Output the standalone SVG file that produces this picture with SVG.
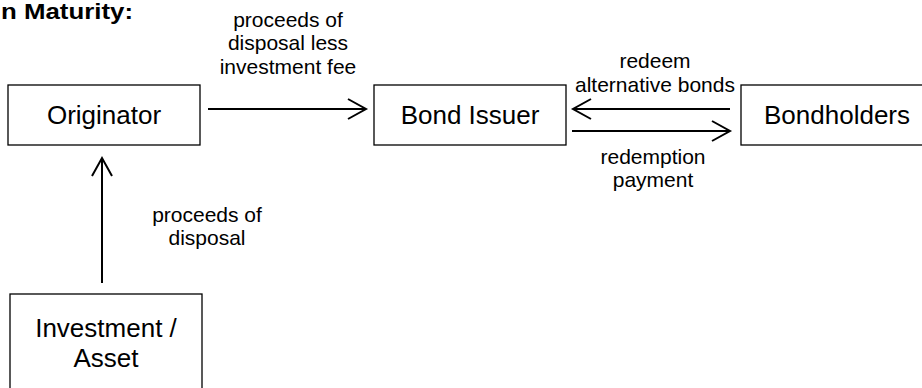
<svg xmlns="http://www.w3.org/2000/svg" width="922" height="388" viewBox="0 0 922 388">
<defs>
<marker id="open" markerUnits="userSpaceOnUse" markerWidth="24" markerHeight="24" viewBox="-20 -12 24 24" refX="0" refY="0" orient="auto">
<path d="M-18,-10 L0,0 L-18,10" fill="none" stroke="#000" stroke-width="2"/>
</marker>
<style>
.box{fill:#fff;stroke:#000;stroke-width:1.3}
.nl{font-family:"Liberation Sans",Arial,sans-serif;font-size:26px;fill:#000;text-anchor:middle}
.el{font-family:"Liberation Sans",Arial,sans-serif;font-size:21px;fill:#000;text-anchor:middle}
.title{font-family:"Liberation Sans",Arial,sans-serif;font-size:22px;font-weight:bold;fill:#000}
.edge{fill:none;stroke:#000;stroke-width:2;marker-end:url(#open)}
</style>
</defs>
<rect width="922" height="388" fill="#fff"/>
<text class="title" x="1" y="19" textLength="132" lengthAdjust="spacingAndGlyphs">n Maturity:</text>
<g id="originator">
<rect class="box" x="8" y="85" width="192" height="60"/>
<text class="nl" x="104" y="124">Originator</text>
</g>
<g id="bond-issuer">
<rect class="box" x="374" y="85" width="192" height="60"/>
<text class="nl" x="470" y="124">Bond Issuer</text>
</g>
<g id="bondholders">
<rect class="box" x="741" y="85" width="192" height="60"/>
<text class="nl" x="837" y="124">Bondholders</text>
</g>
<g id="investment-asset">
<rect class="box" x="10" y="294" width="192" height="110"/>
<text class="nl" x="106" y="337">Investment /</text>
<text class="nl" x="106" y="367">Asset</text>
</g>
<g id="connectors">
<line class="edge" x1="208" y1="109" x2="366" y2="109"/>
<line class="edge" x1="730" y1="109" x2="573" y2="109"/>
<line class="edge" x1="572" y1="131" x2="730" y2="131"/>
<line class="edge" x1="102" y1="283" x2="102" y2="158"/>
<text class="el" x="288" y="27">proceeds of</text>
<text class="el" x="288" y="50">disposal less</text>
<text class="el" x="288" y="74">investment fee</text>
<text class="el" x="655" y="68">redeem</text>
<text class="el" x="655" y="92">alternative bonds</text>
<text class="el" x="653" y="164">redemption</text>
<text class="el" x="653" y="187">payment</text>
<text class="el" x="207" y="222">proceeds of</text>
<text class="el" x="207" y="245">disposal</text>
</g>
</svg>
